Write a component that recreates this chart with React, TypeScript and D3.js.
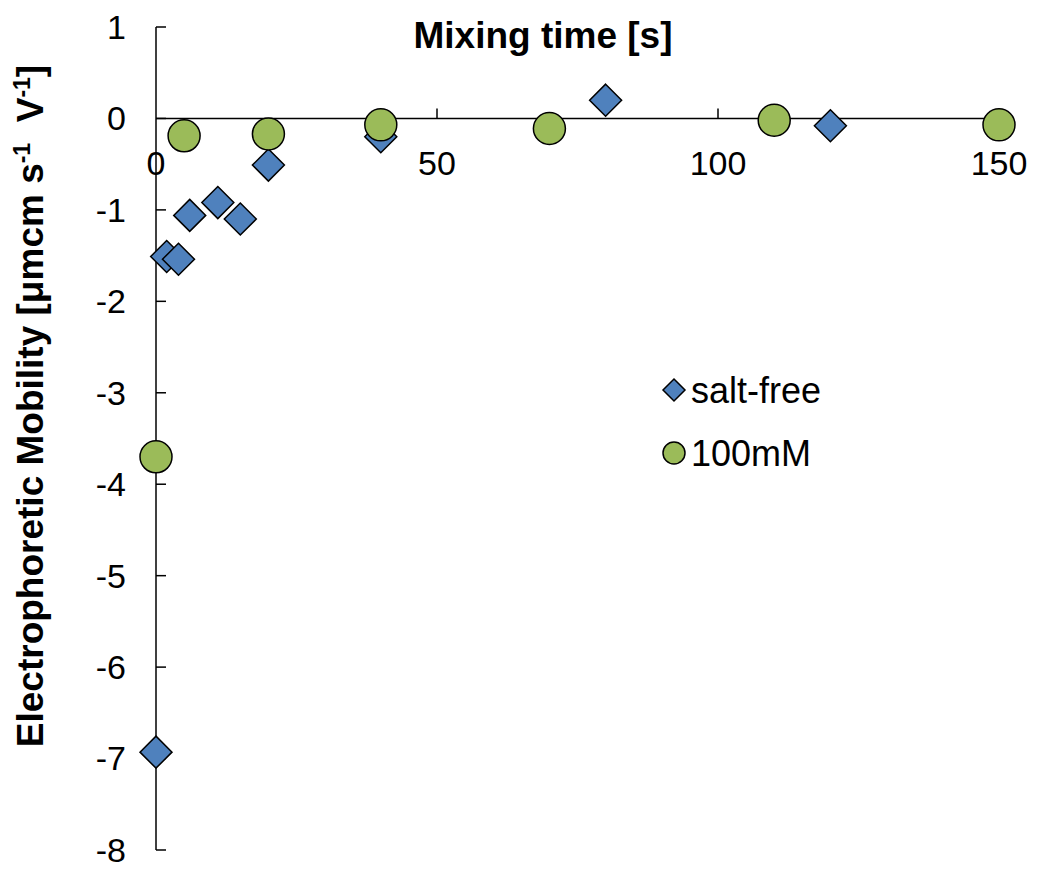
import React from "react";
import * as d3 from "d3";

const saltFreeX = [0, 1.9, 4, 6, 11, 15, 20, 40, 80, 120];
const saltFreeY = [-6.93, -1.51, -1.54, -1.06, -0.92, -1.1, -0.51, -0.2, 0.2, -0.08];
const mM100X = [0, 5, 20, 40, 70, 110, 150];
const mM100Y = [-3.7, -0.19, -0.17, -0.07, -0.11, -0.02, -0.07];
const xTicks = [0, 50, 100, 150];
const yTicks = [1, 0, -1, -2, -3, -4, -5, -6, -7, -8];
const seriesNames = ["salt-free", "100mM"];

const W = 1038;
const H = 875;

export default function App() {
  const x = d3.scaleLinear().domain([0, 150]).range([156, 999]);
  const y = d3.scaleLinear().domain([1, -8]).range([27, 850]);
  const font = "Arial, 'Liberation Sans', sans-serif";
  const diamond = (cx: number, cy: number, r: number) =>
    `M${cx},${cy - r}L${cx + r},${cy}L${cx},${cy + r}L${cx - r},${cy}Z`;
  const blue = "#4F81BD";
  const green = "#9BBB59";
  const y0 = y(0);
  return (
    <svg width={W} height={H} style={{ position: "absolute", left: 0, top: 0, background: "#fff" }}>
      {/* axes */}
      <line x1={x(0)} x2={x(0)} y1={y(1)} y2={y(-8)} stroke="#000" strokeWidth={1.5} />
      <line x1={x(0)} x2={x(150)} y1={y0} y2={y0} stroke="#000" strokeWidth={1.5} />
      {yTicks.map((t) => (
        <g key={"yt" + t}>
          <line x1={x(0)} x2={x(0) + 10} y1={y(t)} y2={y(t)} stroke="#000" strokeWidth={1.5} />
          <text x={126} y={y(t)} dy="0.35em" textAnchor="end" fontFamily={font} fontSize={34}>
            {t < 0 ? "-" + Math.abs(t) : String(t)}
          </text>
        </g>
      ))}
      {xTicks.map((t) => (
        <g key={"xt" + t}>
          {t !== 0 && <line x1={x(t)} x2={x(t)} y1={y0} y2={y0 - 10} stroke="#000" strokeWidth={1.5} />}
          <text x={x(t)} y={163} dy="0.35em" textAnchor="middle" fontFamily={font} fontSize={34}>
            {String(t)}
          </text>
        </g>
      ))}
      {/* titles */}
      <text x={543} y={35} dy="0.35em" textAnchor="middle" fontFamily={font} fontSize={37} fontWeight="bold">
        Mixing time [s]
      </text>
      <text
        transform={`translate(43,406) rotate(-90)`}
        textAnchor="middle"
        fontFamily={font}
        fontSize={37}
        fontWeight="bold"
        xmlSpace="preserve"
      >
        Electrophoretic Mobility [μmcm s
        <tspan dy="-13" fontSize={23}>-1</tspan>
        <tspan dy="13">{"  V"}</tspan>
        <tspan dy="-13" fontSize={23}>-1</tspan>
        <tspan dy="13">]</tspan>
      </text>
      {/* series */}
      {saltFreeX.map((v, i) => (
        <path key={"sf" + i} d={diamond(x(v), y(saltFreeY[i]), 16)} fill={blue} stroke="#000" strokeWidth={1.5} />
      ))}
      {mM100X.map((v, i) => (
        <circle key={"mm" + i} cx={x(v)} cy={y(mM100Y[i])} r={16} fill={green} stroke="#000" strokeWidth={1.5} />
      ))}
      {/* legend */}
      <path d={diamond(674, 390, 11)} fill={blue} stroke="#000" strokeWidth={1.5} />
      <text x={691} y={390} dy="0.35em" fontFamily={font} fontSize={36}>{seriesNames[0]}</text>
      <circle cx={674} cy={453} r={11} fill={green} stroke="#000" strokeWidth={1.5} />
      <text x={691} y={453} dy="0.35em" fontFamily={font} fontSize={36}>{seriesNames[1]}</text>
    </svg>
  );
}
